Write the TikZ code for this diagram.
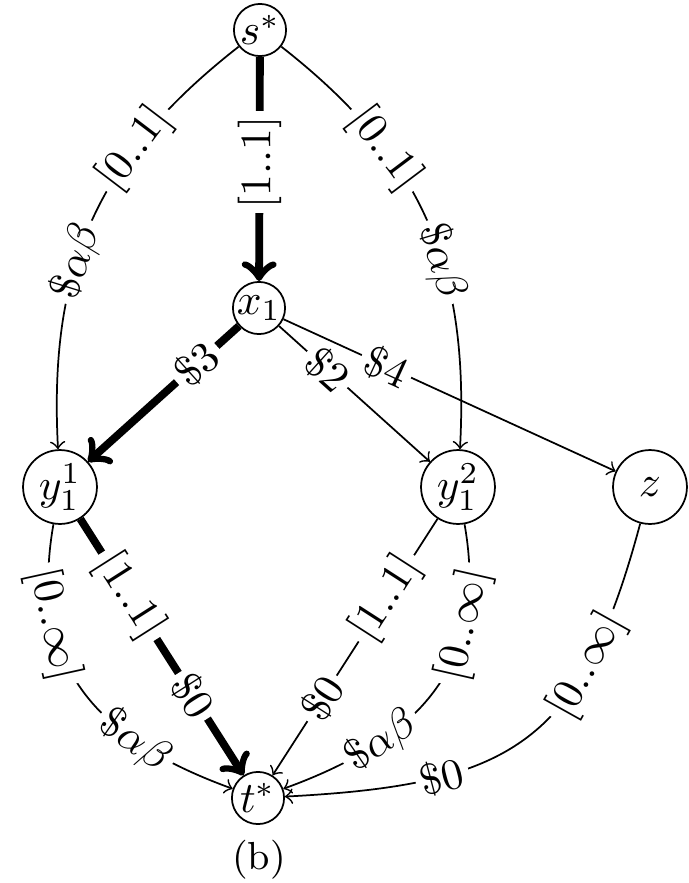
\documentclass[tikz,border=0pt]{standalone}
\begin{document}
\begin{tikzpicture}[x=0.23pt,y=0.23pt,
  vert/.style={circle,draw,line width=0.4pt,inner sep=0pt,minimum size=12pt},
  bigvert/.style={vert,minimum size=17pt},
  arc/.style={->,line width=0.4pt},
  heavy/.style={->,line width=1.8pt},
  lab/.style={fill=white,inner sep=1.2pt,sloped}]
\useasboundingbox (0,0) rectangle (688,-883);

% vertices
\node[vert]    (s)  at (260,-30)  {$s^*$};
\node[vert]    (x)  at (259,-308) {$x_1$};
\node[bigvert] (ya) at (60,-487)  {$y_1^1$};
\node[bigvert] (yb) at (458,-487) {$y_1^2$};
\node[bigvert] (z)  at (650,-487) {$z$};
\node[vert]    (t)  at (258,-798) {$t^*$};
\node[font=\fontsize{9}{10}\selectfont] (cap) at (259,-860) {(b)};

% source edges
\draw[heavy] (s) -- node[fill=white,inner sep=1.2pt,rotate=90,pos=0.47] {$[1..1]$} (x);
\draw[arc] (s) to[out=-142,in=93,looseness=1.05]
  node[lab,pos=0.30] {$[0..1]$} node[lab,pos=0.60] {$\$\alpha\beta$} (ya);
\draw[arc] (s) to[out=-38,in=87,looseness=1.05]
  node[lab,pos=0.30] {$[0..1]$} node[lab,pos=0.60] {$\$\alpha\beta$} (yb);

% edges out of x_1
\draw[heavy] (x) -- node[lab,pos=0.28] {$\$3$} (ya);
\draw[arc] (x) -- node[lab,pos=0.32] {$\$2$} (yb);
\draw[arc] (x) -- node[lab,pos=0.31] {$\$4$} (z);

% sink edges
\draw[heavy] (ya) -- node[lab,pos=0.30] {$[1..1]$} node[lab,pos=0.69] {$\$0$} (t);
\draw[arc] (ya) to[out=-100,in=160,looseness=1.15]
  node[lab,pos=0.27] {$[0..\infty]$} node[lab,pos=0.72] {$\$\alpha\beta$} (t);
\draw[arc] (yb) -- node[lab,pos=0.31] {$[1..1]$} node[lab,pos=0.70] {$\$0$} (t);
\draw[arc] (yb) to[out=-80,in=20,looseness=1.15]
  node[lab,pos=0.27] {$[0..\infty]$} node[lab,pos=0.72] {$\$\alpha\beta$} (t);
\draw[arc] (z) to[out=-105,in=3,looseness=1.3]
  node[lab,pos=0.27] {$[0..\infty]$} node[lab,pos=0.72] {$\$0$} (t);
\end{tikzpicture}
\end{document}
